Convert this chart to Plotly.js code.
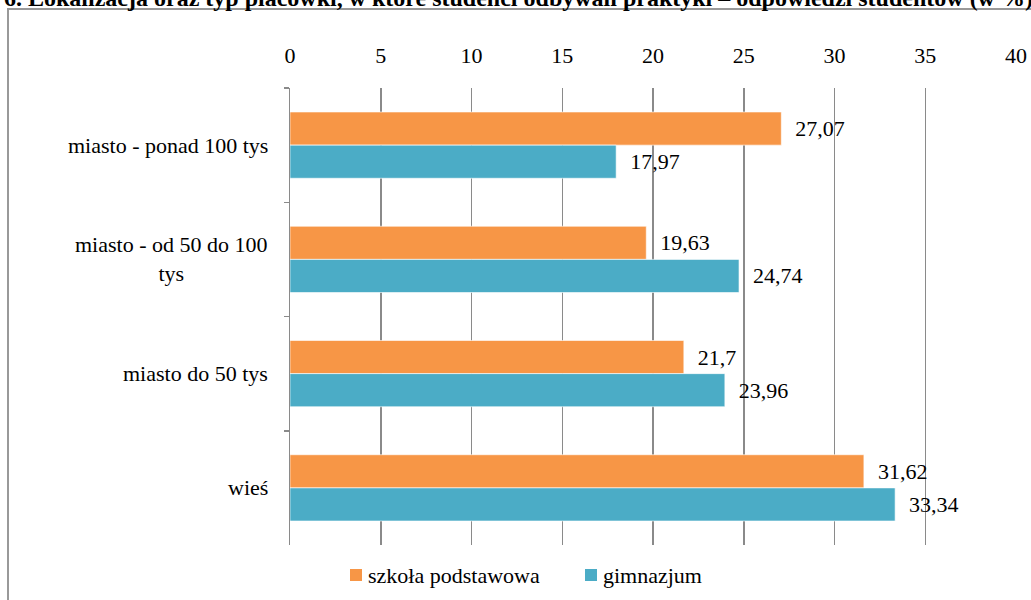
<!DOCTYPE html>
<html>
<head>
<meta charset="utf-8">
<script src="https://cdn.plot.ly/plotly-3.0.1.min.js"></script>
<style>html,body{margin:0;padding:0;background:#fff;}#chart{width:1031px;height:600px;}</style>
</head>
<body>
<div id="chart"></div>
<script>
const categories = ["miasto - ponad 100 tys", "miasto - od 50 do 100<br>tys", "miasto do 50 tys", "wieś"];
const seriesNames = ["szkoła podstawowa", "gimnazjum"];
const seriesColors = ["#F79646", "#4BACC6"];
const szkolaPodstawowa = [27.07, 19.63, 21.7, 31.62];
const gimnazjum = [17.97, 24.74, 23.96, 33.34];
const xTicks = [0, 5, 10, 15, 20, 25, 30, 35, 40];
const titleText = "6. Lokalizacja oraz typ placówki, w które studenci odbywali praktyki – odpowiedzi studentów (w %)";

const W = 1031, H = 600;
const mL = 290, mR = 15, mT = 88, mB = 55;
const pw = W - mL - mR, ph = H - mT - mB;
const px = x => (x - mL) / pw;
const py = y => (H - mB - y) / ph;

const fmt = v => String(v).replace('.', ',');
const FAM = "Liberation Serif";
const SZ = 22;
const mkFont = (s) => ({family: FAM, size: s || SZ, color: "#000"});

function trace(name, vals, color) {
  return {
    type: 'bar', orientation: 'h', name: name,
    x: vals, y: categories,
    marker: {color: color, line: {color: 'rgba(255,255,255,0.6)', width: 1}},
    text: vals.map(v => '  ' + fmt(v)),
    textposition: 'outside', cliponaxis: false,
    textfont: mkFont(), hoverinfo: 'x+name', showlegend: false
  };
}

const data = [
  trace(seriesNames[0], szkolaPodstawowa, seriesColors[0]),
  trace(seriesNames[1], gimnazjum, seriesColors[1])
];

const annotations = categories.map(c => ({
  xref: 'paper', yref: 'y', x: px(270), y: c, xanchor: 'right', yanchor: 'middle',
  text: c, align: 'center', showarrow: false, font: mkFont()
}));
annotations.push({
  xref: 'paper', yref: 'paper', x: px(2), y: py(13), xanchor: 'left', yanchor: 'bottom',
  text: '<b>' + titleText + '</b>', showarrow: false,
  font: mkFont(24)
});

// manual legend (swatch + label)
const legendX = [350, 585];
const legendY = 575;
const shapes = [{
  type: 'rect', xref: 'paper', yref: 'paper', layer: 'above',
  x0: px(8), x1: px(1040), y0: py(610), y1: py(9),
  line: {color: '#999', width: 2}, fillcolor: 'rgba(0,0,0,0)'
}];
seriesNames.forEach((n, i) => {
  shapes.push({
    type: 'rect', xref: 'paper', yref: 'paper',
    x0: px(legendX[i]), x1: px(legendX[i] + 12), y0: py(legendY + 6), y1: py(legendY - 6),
    line: {width: 0}, fillcolor: seriesColors[i]
  });
  annotations.push({
    xref: 'paper', yref: 'paper', x: px(legendX[i] + 16), y: py(legendY), xanchor: 'left', yanchor: 'middle',
    text: n, showarrow: false, font: mkFont()
  });
});

const layout = {
  width: W, height: H,
  font: mkFont(),
  margin: {l: mL, r: mR, t: mT, b: mB, pad: 0},
  paper_bgcolor: '#fff', plot_bgcolor: '#fff',
  barmode: 'group', bargap: 0.42, bargroupgap: 0,
  showlegend: false,
  xaxis: {
    side: 'top', range: [0, 40], tickvals: xTicks, ticktext: xTicks.map(String),
    showgrid: true, gridcolor: '#8a8a8a', gridwidth: 1.5,
    zeroline: false, showline: false, ticks: '', tickfont: mkFont(),
    ticklabelstandoff: 20, fixedrange: true
  },
  yaxis: {
    type: 'category', autorange: 'reversed', showticklabels: false,
    showline: true, linecolor: '#8a8a8a', linewidth: 1.5,
    ticks: 'outside', tickson: 'boundaries', ticklen: 5, tickcolor: '#8a8a8a', tickwidth: 1.5,
    showgrid: false, zeroline: false, fixedrange: true
  },
  annotations: annotations,
  shapes: shapes
};

Plotly.newPlot('chart', data, layout, {displayModeBar: false, staticPlot: true});
</script>
</body>
</html>
